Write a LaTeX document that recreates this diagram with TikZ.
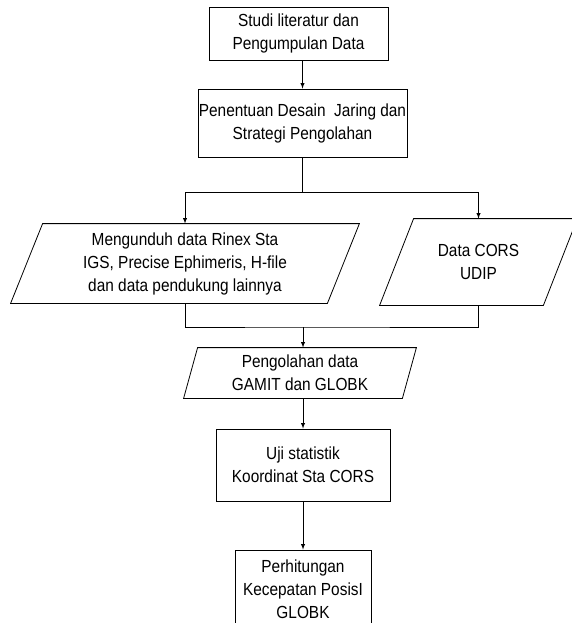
\documentclass[tikz,border=0pt]{standalone}
\usepackage{fontspec}
\setmainfont{Liberation Sans}[FakeStretch=0.88]
\usetikzlibrary{arrows}

% jajaran genjang di sekitar node: #1 = nama node, #2 = geser miring
\newcommand{\jajar}[2]{%
\draw[line width=0.8pt] ([xshift=-#2]#1.south west) -- ([xshift=#2]#1.north west) -- ([xshift=#2]#1.north east) -- ([xshift=-#2]#1.south east) -- cycle;}

\begin{document}
\begin{tikzpicture}[x=1pt,y=-1pt]
\tikzset{kotak/.style={draw,line width=0.8pt,align=center,inner sep=0pt,font=\fontsize{17.5}{23}\selectfont},
isian/.style={kotak,draw=none},
panah/.style={line width=0.9pt,-latex}}
\useasboundingbox (0,0) rectangle (571,623);

\node[kotak,minimum width=179pt,minimum height=53pt] (studi) at (298.5,33.5) {Studi literatur dan\\Pengumpulan Data};
\node[kotak,minimum width=209pt,minimum height=68pt] (desain) at (302.5,123) {Penentuan Desain\ \ Jaring dan\\Strategi Pengolahan};
\node[isian,minimum width=316pt,minimum height=79pt] (unduh) at (185,263.5) {Mengunduh data Rinex Sta\\IGS, Precise Ephimeris, H-file\\dan data pendukung lainnya};
\node[isian,minimum width=163pt,minimum height=86pt] (cors) at (478.5,262) {Data CORS\\UDIP};
\node[isian,minimum width=218pt,minimum height=50pt] (olah) at (300,373) {Pengolahan data\\GAMIT dan GLOBK};
\node[kotak,minimum width=174pt,minimum height=72pt] (uji) at (303,465) {Uji statistik\\Koordinat Sta CORS};
\node[kotak,minimum width=136pt,minimum height=78pt] (hitung) at (303,589) {Perhitungan\\Kecepatan PosisI\\GLOBK};

\jajar{unduh}{16pt}
\jajar{cors}{17pt}
\jajar{olah}{7pt}

\coordinate (cabang) at (302.5,192);
\coordinate (gabung) at (303,327);

\draw[panah] (studi.south -| desain.north) -- (desain.north);
\draw[line width=0.8pt] (desain.south) -- (cabang);
\draw[panah] (cabang) -| (unduh.north);
\draw[panah] (cabang) -| (cors.north);
\draw[line width=0.8pt] (unduh.south) |- (gabung) -| (cors.south);
\draw[panah] (gabung) -- (gabung |- olah.north);
\draw[panah] (uji.north |- olah.south) -- (uji.north);
\draw[panah] (uji.south) -- (hitung.north);
\end{tikzpicture}
\end{document}
